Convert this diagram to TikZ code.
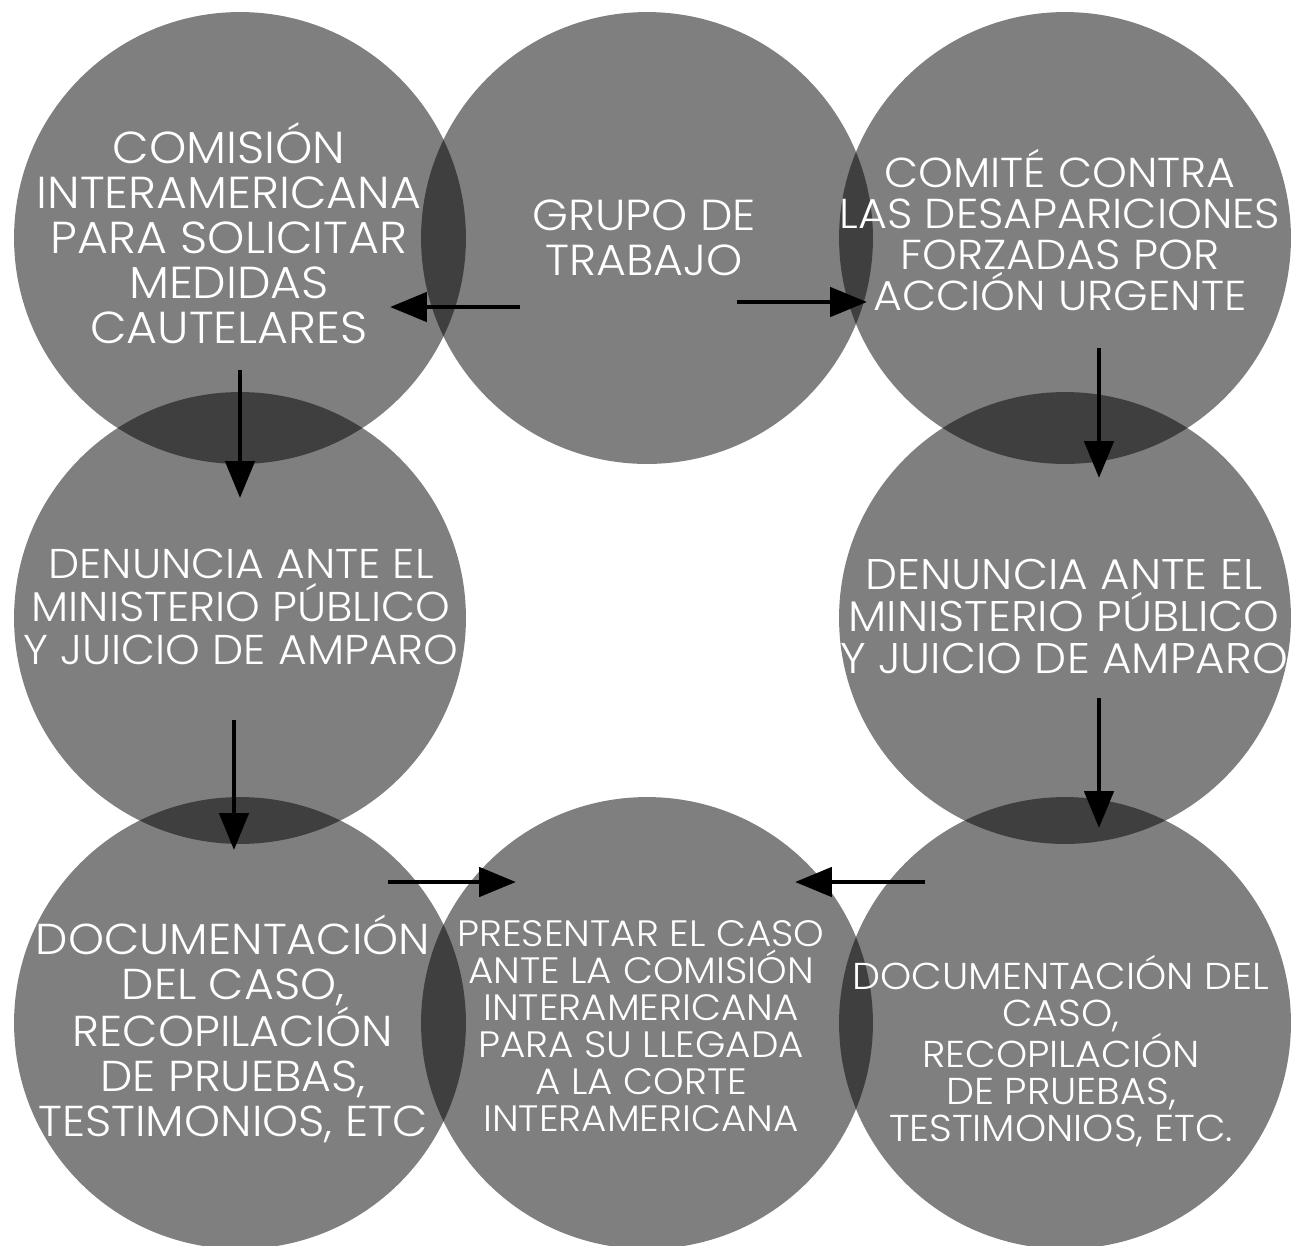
\documentclass[tikz,border=0pt]{standalone}
\usepackage{fontspec}
\IfFontExistsTF{Poppins Light}{\setmainfont{Poppins Light}[FakeStretch=1.06]}{%
  \IfFontExistsTF{Poppins-Light.ttf}{\setmainfont{Poppins-Light.ttf}[FakeStretch=1.06]}{\setmainfont{Poppins}[FakeStretch=1.06]}}
\usetikzlibrary{arrows.meta}
\tikzset{disc/.style={circle, fill=black, fill opacity=0.5, minimum size=9.04cm, inner sep=0pt}}
\tikzset{lbl/.style={text=white, align=center, inner sep=0pt}}
\tikzset{flecha/.style={-{Triangle[length=21pt,width=16.5pt]}, line width=2.7pt}}
\newcommand{\tam}[2]{\fontsize{#1}{#2}\selectfont}

\begin{document}
\begin{tikzpicture}[x=0.02cm,y=-0.02cm]
\useasboundingbox (0,0) rectangle (1292,1245);
% circulos
\node[disc] (com) at (240,238) {};
\node[disc] (grupo) at (647,238) {};
\node[disc] (comite) at (1065,238) {};
\node[disc] (denizq) at (240,618) {};
\node[disc] (dender) at (1065,618) {};
\node[disc] (docizq) at (240,1023) {};
\node[disc] (corte) at (647,1023) {};
\node[disc] (docder) at (1065,1023) {};
% textos
\node[lbl, font=\tam{25.5pt}{25.6pt}] (tcom) at (229,233) {COMISIÓN\\INTERAMERICANA\\PARA SOLICITAR\\MEDIDAS\\CAUTELARES};
\node[lbl, font=\tam{24.7pt}{25.6pt}] (tgrupo) at (644,238) {GRUPO DE\\TRABAJO};
\node[lbl, font=\tam{23.8pt}{23.3pt}] (tcomite) at (1060,230) {COMITÉ CONTRA\\LAS DESAPARICIONES\\FORZADAS POR\\ACCIÓN URGENTE};
\node[lbl, font=\tam{23.7pt}{24.5pt}] (tdenizq) at (241,607) {DENUNCIA ANTE EL\\MINISTERIO PÚBLICO\\Y JUICIO DE AMPARO};
\node[lbl, font=\tam{24.4pt}{23.9pt}] (tdender) at (1064,616) {DENUNCIA ANTE EL\\MINISTERIO PÚBLICO\\Y JUICIO DE AMPARO};
\node[lbl, font=\tam{24.6pt}{25.6pt}] (tdocizq) at (233,1029) {DOCUMENTACIÓN\\DEL CASO,\\RECOPILACIÓN\\DE PRUEBAS,\\TESTIMONIOS, ETC};
\node[lbl, font=\tam{20.9pt}{21pt}] (tcorte) at (641,1026) {PRESENTAR EL CASO\\ANTE LA COMISIÓN\\INTERAMERICANA\\PARA SU LLEGADA\\A LA CORTE\\INTERAMERICANA};
\node[lbl, font=\tam{21.3pt}{21pt}] (tdocder) at (1061,1051) {DOCUMENTACIÓN DEL\\CASO,\\RECOPILACIÓN\\DE PRUEBAS,\\TESTIMONIOS, ETC.};
% flechas
\coordinate (s1) at (520,307); \coordinate (e1) at (390,307);
\coordinate (s2) at (737,302); \coordinate (e2) at (867,302);
\coordinate (s3) at (240,370); \coordinate (e3) at (240,498);
\coordinate (s4) at (1099,348); \coordinate (e4) at (1099,478);
\coordinate (s5) at (234,720); \coordinate (e5) at (234,850);
\coordinate (s6) at (1099,698); \coordinate (e6) at (1099,828);
\coordinate (s7) at (388,882); \coordinate (e7) at (516,882);
\coordinate (s8) at (925,882); \coordinate (e8) at (795,882);
\draw[flecha] (s1) -- (e1);
\draw[flecha] (s2) -- (e2);
\draw[flecha] (s3) -- (e3);
\draw[flecha] (s4) -- (e4);
\draw[flecha] (s5) -- (e5);
\draw[flecha] (s6) -- (e6);
\draw[flecha] (s7) -- (e7);
\draw[flecha] (s8) -- (e8);
\end{tikzpicture}
\end{document}
